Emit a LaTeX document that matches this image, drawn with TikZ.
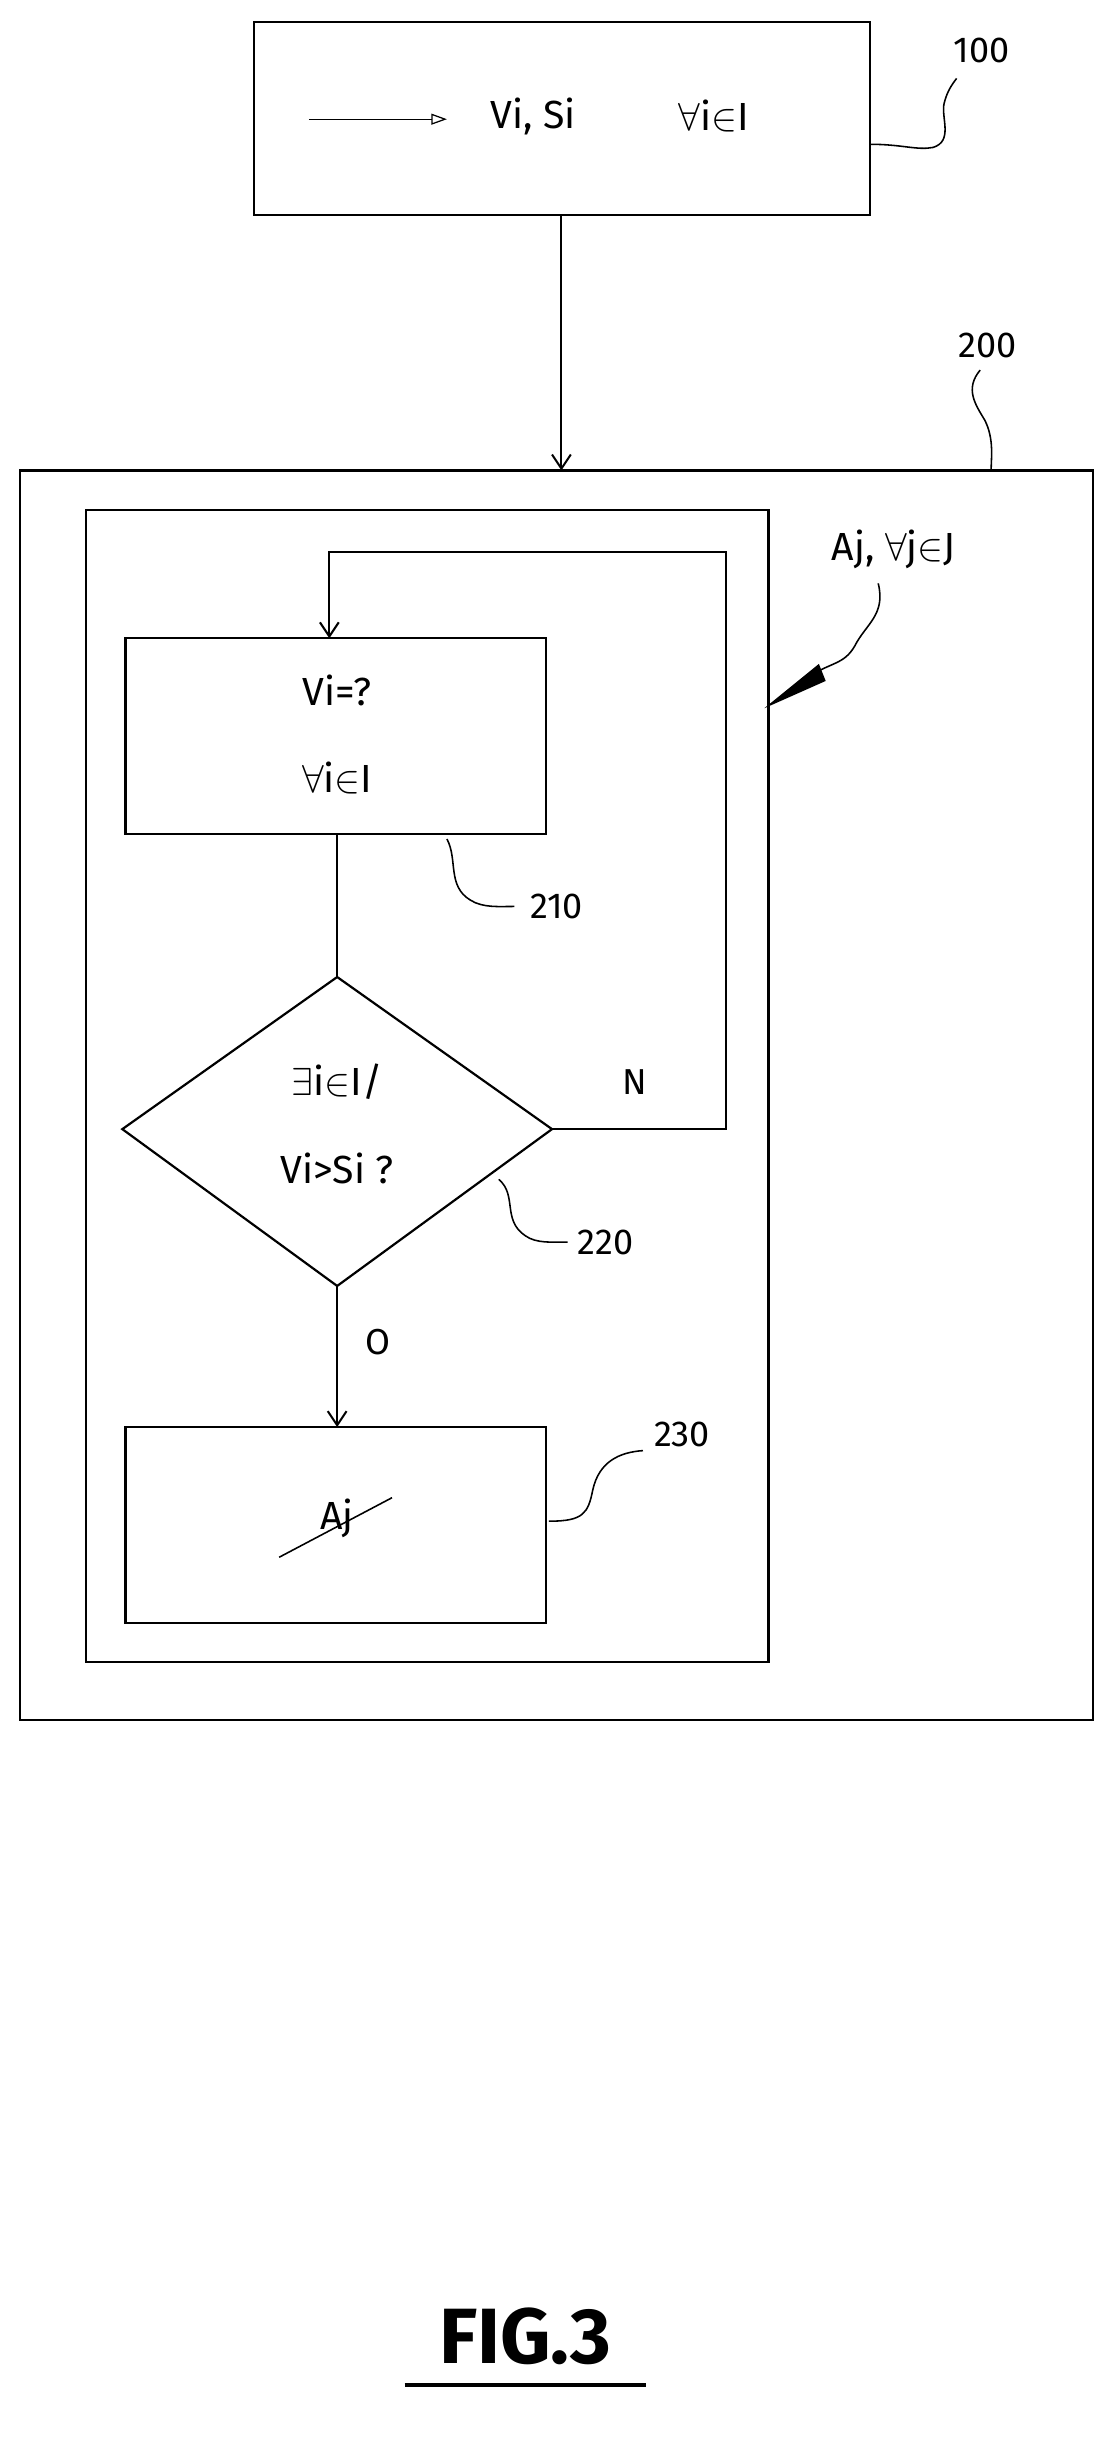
\documentclass[tikz,border=0pt]{standalone}
\usepackage{fontspec}
\setmainfont{Fira Sans}
\usetikzlibrary{arrows.meta,shapes.geometric}
\begin{document}
\begin{tikzpicture}[x=1pt,y=-1pt,
  box/.style={draw,line width=1.4pt},
  ln/.style={line width=1.3pt},
  lbl/.style={font=\fontsize{23}{25}\selectfont},
  txt/.style={font=\fontsize{25}{28}\selectfont},
  lead/.style={line width=1pt}]
\useasboundingbox (0,0) rectangle (712,1561);
% box 100
\draw[box] (162,14) rectangle (555,137);
\coordinate (a1) at (197,76); \coordinate (a2) at (285,76);
\draw[line width=0.8pt,-{Triangle[open,length=10pt,width=7pt]}] (a1)--(a2);
\node[txt] (t100) at (340,74) {Vi, Si};
\node[txt] (t100b) at (455,74) {$\forall$i$\in$I};
\node[lbl] (l100) at (626,32) {100};
\draw[lead] (555,92) .. controls (575,92) and (585,96) .. (595,94) .. controls (608,90) and (600,75) .. (602,66) .. controls (604,58) and (607,54) .. (610,50);
% arrow to 200
\coordinate (p1) at (358,137); \coordinate (p2) at (358,300);
\draw[ln,-{Straight Barb[length=9pt,width=12pt]}] (p1)--(p2);
% outer box
\draw[box] (13,300) rectangle (697,1097);
\node[lbl] (l200) at (630,220) {200};
\draw[lead] (625,236) .. controls (615,248) and (622,258) .. (628,268) .. controls (634,280) and (632,292) .. (632,300);
% inner box
\draw[box] (55,325) rectangle (490,1060);
\node[txt] (aj) at (570,350) {Aj, $\forall$j$\in$J};
\coordinate (ih) at (490,450);
\draw[lead] (560,372) .. controls (565,392) and (552,398) .. (545,412) .. controls (538,424) and (530,422) .. (515,432);
\draw[line width=0.8pt,fill=black] (ih) -- (522,424) -- (526,434) -- cycle;
% box 210
\draw[box] (80,407) rectangle (348,532);
\node[txt] at (215,440) {Vi=?};
\node[txt] at (215,496) {$\forall$i$\in$I};
\node[lbl] (l210) at (355,578) {210};
\draw[lead] (285,535) .. controls (292,548) and (285,565) .. (300,574) .. controls (308,579) and (318,578) .. (328,578);
% diamond
\coordinate (dt) at (215,623); \coordinate (dl) at (78,720);
\coordinate (dr) at (352,720); \coordinate (db) at (215,820);
\draw[box] (dt)--(dr)--(db)--(dl)--cycle;
\node[txt] at (215,690) {$\exists$i$\in$I/};
\node[txt] at (215,745) {Vi>Si ?};
\draw[ln] (215,532) -- (dt);
% loop N
\draw[ln,-{Straight Barb[length=9pt,width=12pt]}] (dr) -- (463,720) -- (463,352) -- (210,352) -- (210,407);
\node[lbl] at (405,690) {N};
\node[lbl] (l220) at (386,792) {220};
\draw[lead] (318,752) .. controls (330,762) and (320,778) .. (335,788) .. controls (342,793) and (352,792) .. (362,792);
% O arrow
\node[lbl] at (241,856) {O};
\draw[ln,-{Straight Barb[length=9pt,width=12pt]}] (db) -- (215,910);
% box 230
\draw[box] (80,910) rectangle (348,1035);
\node[txt] (aj2) at (215,968) {Aj};
\draw[line width=1pt] (178,993) -- (250,955);
\node[lbl] (l230) at (435,915) {230};
\draw[lead] (350,970) .. controls (372,970) and (375,965) .. (378,950) .. controls (382,932) and (395,926) .. (410,925);
% FIG
\node[font=\fontsize{50}{56}\selectfont\bfseries] (fig) at (335,1490) {FIG.3};
\draw[line width=2.6pt] (258,1521) -- (412,1521);
\end{tikzpicture}
\end{document}
